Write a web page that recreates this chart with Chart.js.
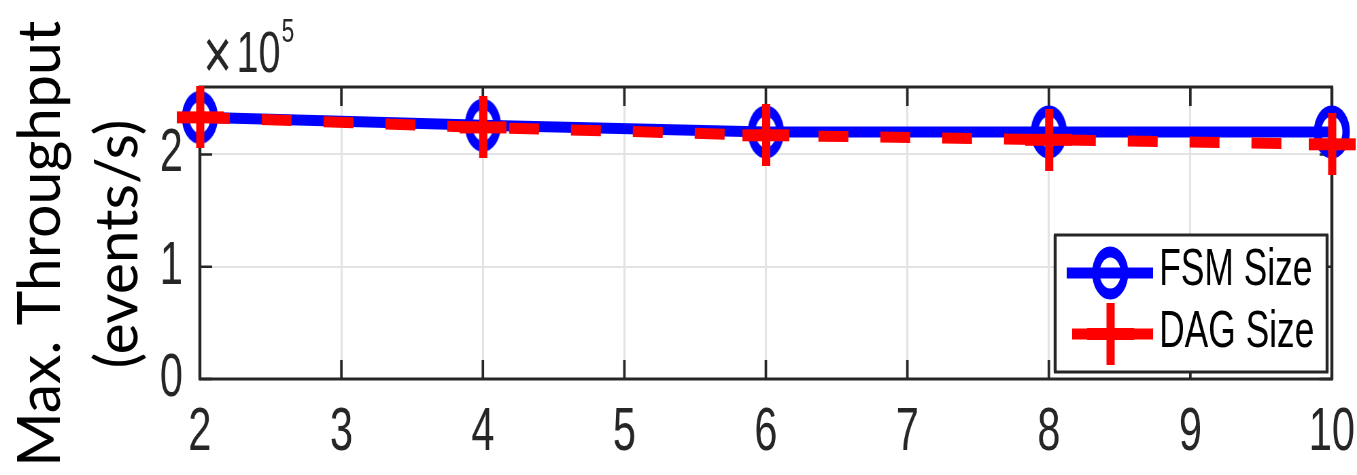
<!DOCTYPE html>
<html>
<head>
<meta charset="utf-8">
<script src="https://cdn.jsdelivr.net/npm/chart.js@4.4.1/dist/chart.umd.min.js"></script>
<style>
  html, body { margin: 0; padding: 0; background: #fff; overflow: hidden; }
  /* the original figure is squashed sideways, so draw wide and squeeze */
  #wrap { width: 1996px; height: 475px; transform: scaleX(0.67986); transform-origin: 0 0; }
</style>
</head>
<body>
<div id="wrap"><canvas id="tputChart" width="1996" height="475"></canvas></div>
<script>
// values (events/s)
const xSizes = [2, 4, 6, 8, 10];
const fsmThroughput = [233000, 226000, 220000, 220000, 220000];
const dagThroughput = [233000, 224000, 217000, 213000, 209000];
const yTickValues = [0, 100000, 200000];
const seriesNames = ['FSM Size', 'DAG Size'];
const yTitleLines = ['Max. Throughput', '(events/s)'];

const squeeze = 1357 / 1996;
const tickFont = '"Liberation Sans", Arial, sans-serif';
const darkInk = '#262626';

function makeCircle() {
  const c = document.createElement('canvas');
  c.width = 56; c.height = 56;
  const g = c.getContext('2d');
  g.strokeStyle = '#0000ff';
  g.lineWidth = 11;
  g.beginPath();
  g.arc(28, 28, 21, 0, Math.PI * 2);
  g.stroke();
  return c;
}
function makeCross() {
  const c = document.createElement('canvas');
  c.width = 69; c.height = 62;
  const g = c.getContext('2d');
  g.fillStyle = '#ff0000';
  g.fillRect(0, 25, 69, 12);
  g.fillRect(29, 0, 12, 62);
  return c;
}
const circleMark = makeCircle();
const crossMark = makeCross();

function toPoints(ys) {
  return xSizes.map((x, i) => ({ x: x, y: ys[i] }));
}

const boxPlugin = {
  id: 'boxPlugin',
  beforeDatasetsDraw(chart) {
    const { ctx, chartArea: a, scales } = chart;
    ctx.save();
    ctx.strokeStyle = darkInk;
    // inward ticks
    ctx.lineWidth = 3.7;
    scales.x.ticks.forEach(t => {
      const px = scales.x.getPixelForValue(t.value);
      ctx.beginPath();
      ctx.moveTo(px, a.bottom); ctx.lineTo(px, a.bottom - 19);
      ctx.moveTo(px, a.top); ctx.lineTo(px, a.top + 19);
      ctx.stroke();
    });
    ctx.lineWidth = 2.5;
    scales.y.ticks.forEach(t => {
      const py = scales.y.getPixelForValue(t.value);
      ctx.beginPath();
      ctx.moveTo(a.left, py); ctx.lineTo(a.left + 18, py);
      ctx.moveTo(a.right, py); ctx.lineTo(a.right - 18, py);
      ctx.stroke();
    });
    // box
    ctx.lineWidth = 3;
    ctx.beginPath();
    ctx.moveTo(a.left - 2, a.top); ctx.lineTo(a.right + 2, a.top);
    ctx.moveTo(a.left - 2, a.bottom); ctx.lineTo(a.right + 2, a.bottom);
    ctx.stroke();
    ctx.lineWidth = 4.4;
    ctx.beginPath();
    ctx.moveTo(a.left, a.top); ctx.lineTo(a.left, a.bottom);
    ctx.moveTo(a.right, a.top); ctx.lineTo(a.right, a.bottom);
    ctx.stroke();

    // exponent
    ctx.fillStyle = darkInk;
    ctx.textBaseline = 'alphabetic';
    ctx.font = '72px ' + tickFont;
    ctx.fillText('\u00d7', a.left + 5, 79);
    ctx.font = '58px ' + tickFont;
    ctx.fillText('10', a.left + 54, 72);
    ctx.font = '34px ' + tickFont;
    ctx.fillText('5', a.left + 120, 42);

    // y title, kept unsqueezed
    ctx.fillStyle = '#000';
    ctx.font = '59px Lato, "Noto Sans", sans-serif';
    ctx.textAlign = 'center';
    const baseX = [60, 137];
    yTitleLines.forEach((line, i) => {
      ctx.save();
      ctx.translate(baseX[i] / squeeze, 244);
      ctx.scale(1 / squeeze, 1);
      ctx.rotate(-Math.PI / 2);
      ctx.fillText(line, 0, 0);
      ctx.restore();
    });
    ctx.restore();
  },
  afterDatasetsDraw(chart) {
    const { ctx } = chart;
    const bx = 1552, by = 235, bw = 400, bh = 137;
    ctx.save();
    ctx.fillStyle = '#fff';
    ctx.fillRect(bx, by, bw, bh);
    ctx.strokeStyle = darkInk;
    ctx.lineWidth = 3;
    ctx.beginPath();
    ctx.moveTo(bx - 2, by); ctx.lineTo(bx + bw + 2, by);
    ctx.moveTo(bx - 2, by + bh); ctx.lineTo(bx + bw + 2, by + bh);
    ctx.stroke();
    ctx.lineWidth = 4.4;
    ctx.beginPath();
    ctx.moveTo(bx, by); ctx.lineTo(bx, by + bh);
    ctx.moveTo(bx + bw, by); ctx.lineTo(bx + bw, by + bh);
    ctx.stroke();

    const rows = [273, 334];
    const baselines = [285, 347];
    chart.data.datasets.forEach((ds, i) => {
      const ry = rows[i];
      ctx.strokeStyle = ds.borderColor;
      ctx.lineWidth = ds.borderWidth;
      ctx.lineCap = 'butt';
      ctx.setLineDash(ds.borderDash || []);
      ctx.lineDashOffset = i === 1 ? -8 : 0;
      ctx.beginPath();
      ctx.moveTo(1569, ry); ctx.lineTo(1696, ry);
      ctx.stroke();
      ctx.setLineDash([]);
      const m = ds.pointStyle;
      ctx.drawImage(m, 1633 - m.width / 2, ry - m.height / 2);
      ctx.fillStyle = '#000';
      ctx.font = '52px ' + tickFont;
      ctx.textBaseline = 'alphabetic';
      ctx.fillText(ds.label, 1705, baselines[i]);
    });
    ctx.restore();
  }
};

new Chart(document.getElementById('tputChart'), {
  type: 'line',
  data: {
    datasets: [
      {
        label: seriesNames[0],
        data: toPoints(fsmThroughput),
        borderColor: '#0000ff',
        backgroundColor: '#0000ff',
        borderWidth: 11,
        pointStyle: circleMark,
        pointRadius: 3,
        pointHoverRadius: 3,
        tension: 0,
        clip: false,
        order: 2
      },
      {
        label: seriesNames[1],
        data: toPoints(dagThroughput),
        borderColor: '#ff0000',
        backgroundColor: '#ff0000',
        borderWidth: 11,
        borderDash: [44, 47],
        borderCapStyle: 'butt',
        pointStyle: crossMark,
        pointRadius: 3,
        pointHoverRadius: 3,
        tension: 0,
        clip: false,
        order: 1
      }
    ]
  },
  options: {
    responsive: false,
    animation: false,
    layout: { padding: { top: 87, right: 37, left: 0, bottom: 0 } },
    plugins: {
      legend: { display: false },
      tooltip: { enabled: false }
    },
    scales: {
      x: {
        type: 'linear',
        min: 2,
        max: 10,
        ticks: {
          stepSize: 1,
          color: darkInk,
          padding: 18,
          font: { family: tickFont, size: 61 }
        },
        grid: { color: '#e3e3e3', lineWidth: 3, drawTicks: false },
        border: { display: false },
        afterFit(scale) {
          scale.height = 96;
          scale.paddingLeft = 0;
          scale.paddingRight = 0;
        }
      },
      y: {
        min: 0,
        max: 260000,
        afterBuildTicks(scale) {
          scale.ticks = yTickValues.map(v => ({ value: v }));
        },
        ticks: {
          color: darkInk,
          padding: 25,
          font: { family: tickFont, size: 61 },
          callback: v => String(v / 100000)
        },
        grid: { color: '#e3e3e3', lineWidth: 2, drawTicks: false },
        border: { display: false },
        afterFit(scale) { scale.width = 294; }
      }
    }
  },
  plugins: [boxPlugin]
});
</script>
</body>
</html>
